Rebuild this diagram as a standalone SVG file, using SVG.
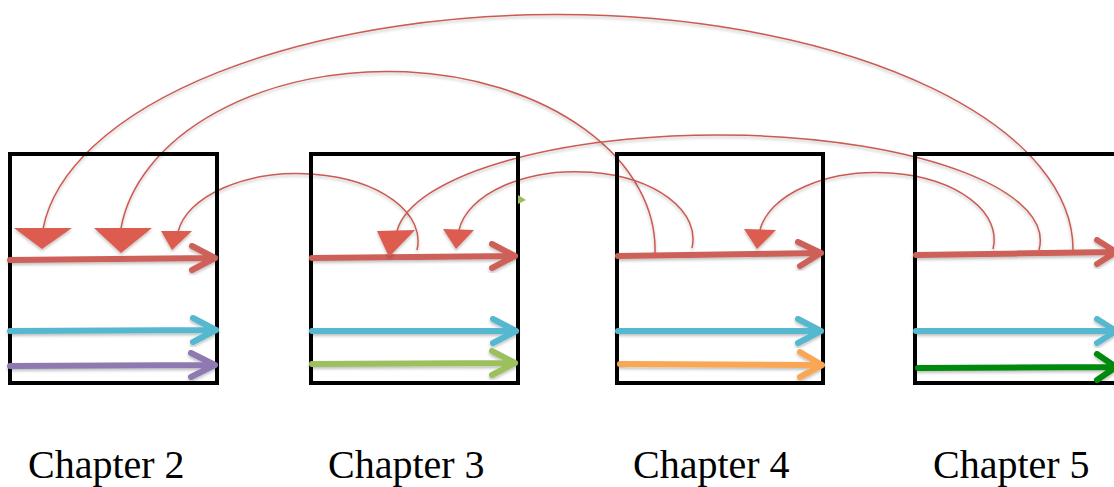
<svg xmlns="http://www.w3.org/2000/svg" width="1114" height="487" viewBox="0 0 1114 487">
  <defs>
    <filter id="sh" x="-10%" y="-10%" width="120%" height="130%">
      <feDropShadow dx="0" dy="2" stdDeviation="1.5" flood-color="#000" flood-opacity="0.25"/>
    </filter>
  </defs>
  <style>
    .box { fill: none; stroke: #000; stroke-width: 4; }
    .arr { fill: none; stroke-width: 6; stroke-linecap: round; stroke-linejoin: round; filter: url(#sh); }
    .red { stroke: #CD6158; }
    .blue { stroke: #55B8CF; }
    .purple { stroke: #8F79B1; }
    .lgreen { stroke: #9DC05F; }
    .orange { stroke: #F9A654; }
    .dgreen { stroke: #008A0E; }
    .tri { fill: #DC5B4F; filter: url(#sh); }
    .arc { fill: none; stroke: #CB5A52; stroke-width: 1.5; filter: url(#sh); }
    .lbl { font-family: "Liberation Serif", "Times New Roman", serif; font-size: 40px; fill: #000; }
  </style>
  <rect width="1114" height="487" fill="#fff"/>

  <g id="connectors">
    <path class="arc" d="M1073,252 A516,235 0 0 0 43,229"/>
    <path class="arc" d="M655,253 A268,178 0 0 0 121,228"/>
    <path class="arc" d="M417,250 A120,67 0 0 0 178,232"/>
    <path class="arc" d="M692,248 A117,67 0 0 0 459,230"/>
    <path class="arc" d="M1039,250 A322,105.5 0 0 0 397,231"/>
    <path class="arc" d="M993,249 A117,66.5 0 0 0 760,230"/>
  </g>

  <g id="chapter2">
    <rect class="box" x="10" y="154" width="207" height="229"/>
    <path class="arr red" d="M10,260 L215,258 M192,246 L215,258 L192,270"/>
    <path class="arr blue" d="M10,331 L216,330 M193,318 L216,330 L193,342"/>
    <path class="arr purple" d="M10,366 L215,365 M191,353 L215,365 L191,377"/>
    <polygon class="tri" points="14,228 72,228 42,249"/>
    <polygon class="tri" points="94,228 152,228 121,253"/>
    <polygon class="tri" points="161,231 192,231 172,250"/>
    <text class="lbl" x="28" y="478">Chapter 2</text>
  </g>

  <g id="chapter3">
    <rect class="box" x="311" y="154" width="207" height="229"/>
    <path class="arr red" d="M312,258 L515,256 M492,244 L515,256 L492,268"/>
    <path class="arr blue" d="M312,331 L516,331 M493,319 L516,331 L493,343"/>
    <path class="arr lgreen" d="M312,364 L515,363 M492,351 L515,363 L492,375"/>
    <polygon class="tri" points="377,231 415,230 389,257"/>
    <polygon class="tri" points="443,229 474,230 456,249"/>
    <polygon points="518,195 526,200 518,204" fill="#9BBB59"/>
    <text class="lbl" x="328" y="478">Chapter 3</text>
  </g>

  <g id="chapter4">
    <rect class="box" x="617" y="154" width="206" height="229"/>
    <path class="arr red" d="M618,256 L821,253 M798,242 L821,253 L800,266"/>
    <path class="arr blue" d="M618,331 L821,331 M798,319 L821,331 L798,343"/>
    <path class="arr orange" d="M620,364 L822,365 M800,352 L822,365 L800,377"/>
    <polygon class="tri" points="744,229 776,230 757,249"/>
    <text class="lbl" x="633" y="478">Chapter 4</text>
  </g>

  <g id="chapter5">
    <rect class="box" x="915" y="154" width="230" height="229"/>
    <path class="arr red" d="M916,255 L1116,252 M1097,240 L1116,252 L1097,264"/>
    <path class="arr blue" d="M916,331 L1116,331 M1097,319 L1116,331 L1097,343"/>
    <path class="arr dgreen" d="M918,368 L1116,367 M1097,354 L1116,367 L1097,380"/>
    <text class="lbl" x="933" y="478">Chapter 5</text>
  </g>
</svg>
